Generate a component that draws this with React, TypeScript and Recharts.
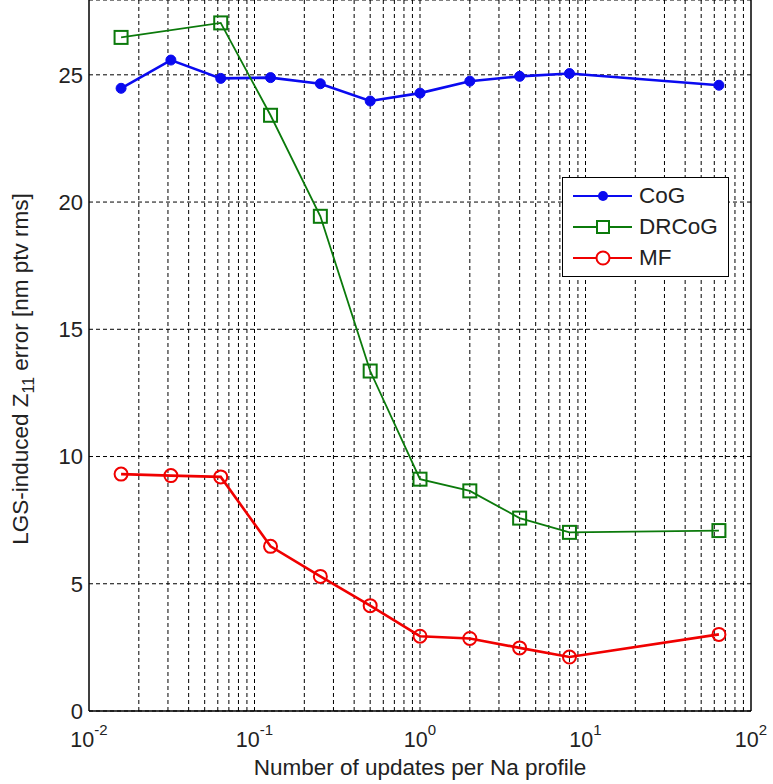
import { LineChart, Line, XAxis, YAxis, CartesianGrid, ReferenceLine, Legend, Label } from 'recharts';

// updates per Na profile (log axis)
const UPDATES = [1 / 64, 1 / 32, 1 / 16, 1 / 8, 1 / 4, 1 / 2, 1, 2, 4, 8, 64];
const COG = [24.47, 25.58, 24.86, 24.89, 24.65, 23.97, 24.28, 24.75, 24.94, 25.05, 24.59];
const DRCOG = [26.47, null, 27.04, 23.41, 19.44, 13.36, 9.11, 8.65, 7.58, 7.02, 7.09];
const MF = [9.31, 9.25, 9.2, 6.47, 5.29, 4.14, 2.94, 2.85, 2.48, 2.12, 3.01];

const X_TICKS = [0.01, 0.1, 1, 10, 100];
const Y_TICKS = [0, 5, 10, 15, 20, 25];
const DECADES = [0.01, 0.1, 1, 10];
const X_GRID = DECADES.flatMap((d) => [2, 3, 4, 5, 6, 7, 8, 9].map((k) => +(k * d).toPrecision(3))).concat([0.1, 1, 10]);

const SERIES = [
  { key: 'cog', name: 'CoG', color: '#0a0af0' },
  { key: 'drcog', name: 'DRCoG', color: '#0b7a0b' },
  { key: 'mf', name: 'MF', color: '#f00000' },
];

const FONT = '"Liberation Sans", Arial, Helvetica, sans-serif';

const data = UPDATES.map((x, i) => ({ x, cog: COG[i], drcog: DRCOG[i], mf: MF[i] }));

function XTick({ x, y, payload }: any) {
  const exp = Math.round(Math.log10(payload.value));
  return (
    <text x={x} y={y + 34} textAnchor="middle" fontFamily={FONT} fontSize={21.5} fill="#222">
      <tspan>10</tspan>
      <tspan dy={-12} fontSize={15}>{exp}</tspan>
    </text>
  );
}

function SquareDot({ cx, cy, index }: any) {
  if (cx == null || cy == null) return <g key={`sq-${index}`} />;
  return <rect key={`sq-${index}`} x={cx - 6.5} y={cy - 6.5} width={13} height={13} fill="none" stroke="#0b7a0b" strokeWidth={2} />;
}

function Marker({ name, color }: { name: string; color: string }) {
  return (
    <svg width={60} height={20} style={{ display: 'block' }}>
      <line x1={0} y1={10} x2={59} y2={10} stroke={color} strokeWidth={2.2} />
      {name === 'CoG' && <circle cx={30} cy={10} r={5} fill={color} />}
      {name === 'DRCoG' && <rect x={24} y={4} width={12} height={12} fill="#fff" stroke={color} strokeWidth={2} />}
      {name === 'MF' && <circle cx={30} cy={10} r={6.5} fill="#fff" stroke={color} strokeWidth={2} />}
    </svg>
  );
}

function LegendBox() {
  return (
    <div
      style={{
        width: 165,
        height: 96,
        border: '1px solid #000',
        background: '#fff',
        boxSizing: 'content-box',
        fontFamily: FONT,
        fontSize: 22.5,
        color: '#222',
        paddingTop: 2,
      }}
    >
      {SERIES.map((s) => (
        <div key={s.key} style={{ display: 'flex', alignItems: 'center', height: 31, paddingLeft: 10 }}>
          <Marker name={s.name} color={s.color} />
          <span style={{ marginLeft: 6 }}>{s.name}</span>
        </div>
      ))}
    </div>
  );
}

export default function App() {
  return (
    <div style={{ position: 'absolute', left: 0, top: 0, width: 773, height: 784, background: '#fff' }}>
      <LineChart width={773} height={784} data={data} margin={{ top: 0, right: 22, bottom: 0, left: 0 }}>
        <CartesianGrid vertical={false} stroke="#000" strokeDasharray="4 3" />
        {X_GRID.map((v) => (
          <ReferenceLine key={v} x={v} stroke="#000" strokeDasharray="4 3" />
        ))}
        <ReferenceLine x={100} stroke="#000" strokeWidth={1.5} />
        <XAxis
          dataKey="x"
          type="number"
          scale="log"
          domain={[0.01, 100]}
          ticks={X_TICKS}
          allowDataOverflow
          height={73}
          tickLine={false}
          tickSize={0}
          axisLine={{ stroke: '#000', strokeWidth: 1.5 }}
          tick={<XTick />}
        >
          <Label
            content={() => (
              <text x={420} y={775} textAnchor="middle" fontFamily={FONT} fontSize={22.5} fill="#222">
                Number of updates per Na profile
              </text>
            )}
          />
        </XAxis>
        <YAxis
          type="number"
          domain={[0, 27.94]}
          ticks={Y_TICKS}
          allowDataOverflow
          width={89}
          tickLine={false}
          tickSize={0}
          tickMargin={6}
          axisLine={{ stroke: '#000', strokeWidth: 1.5 }}
          tick={{ fontFamily: FONT, fontSize: 22, fill: '#222' }}
        >
          <Label
            content={() => (
              <text transform="translate(28,369) rotate(-90)" textAnchor="middle" fontFamily={FONT} fontSize={22.5} fill="#222">
                LGS-induced Z<tspan dy={6} fontSize={16}>11</tspan>
                <tspan dy={-6}> error [nm ptv rms]</tspan>
              </text>
            )}
          />
        </YAxis>
        <Legend
          layout="vertical"
          align="center"
          verticalAlign="middle"
          content={<LegendBox />}
          wrapperStyle={{ position: 'absolute', left: 562, top: 177, width: 'auto' }}
        />
        <Line
          dataKey="cog"
          name="CoG"
          stroke="#0a0af0"
          strokeWidth={2.6}
          dot={{ r: 5, fill: '#0a0af0', stroke: '#0a0af0', strokeWidth: 1 }}
          isAnimationActive={false}
        />
        <Line
          dataKey="drcog"
          name="DRCoG"
          stroke="#0b7a0b"
          strokeWidth={1.8}
          connectNulls
          dot={<SquareDot />}
          isAnimationActive={false}
        />
        <Line
          dataKey="mf"
          name="MF"
          stroke="#f00000"
          strokeWidth={2.6}
          dot={{ r: 6.5, fill: 'none', stroke: '#f00000', strokeWidth: 2 }}
          isAnimationActive={false}
        />
      </LineChart>
    </div>
  );
}
